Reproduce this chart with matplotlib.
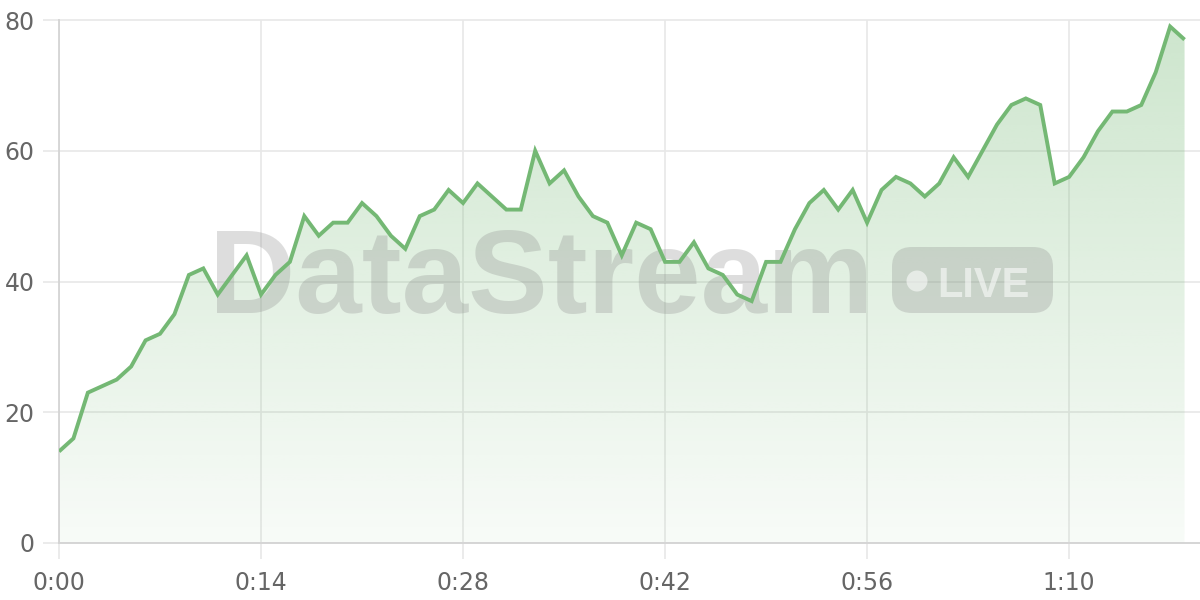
import numpy as np
import matplotlib
matplotlib.use("Agg")
import matplotlib.pyplot as plt
from matplotlib.patches import FancyBboxPatch, Circle
from matplotlib.colors import to_rgb

# one sample per second, 0:00 .. 1:18
seconds = list(range(79))
values = [14, 16, 23, 24, 25, 27, 31, 32, 35, 41,
          42, 38, 41, 44, 38, 41, 43, 50, 47, 49,
          49, 52, 50, 47, 45, 50, 51, 54, 52, 55,
          53, 51, 51, 60, 55, 57, 53, 50, 49, 44,
          49, 48, 43, 43, 46, 42, 41, 38, 37, 43,
          43, 48, 52, 54, 51, 54, 49, 54, 56, 55,
          53, 55, 59, 56, 60, 64, 67, 68, 67, 55,
          56, 59, 63, 66, 66, 67, 72, 79, 77]
x_ticks = [0, 14, 28, 42, 56, 70]
x_tick_labels = ["0:00", "0:14", "0:28", "0:42", "0:56", "1:10"]
y_ticks = [0, 20, 40, 60, 80]

line_color = "#74b874"
grid_color = "#e8e8e8"
axis_color = "#d4d4d4"
label_color = "#666666"

fig = plt.figure(figsize=(12, 6), dpi=100)
ax = fig.add_axes([59 / 1200, 57 / 600, 1141 / 1200, 523 / 600])

ax.set_xlim(0, 79.07)
ax.set_ylim(0, 80)

# gradient fill under the line
poly = ax.fill_between(seconds, values, 0, facecolor="none", edgecolor="none")
r, g, b = to_rgb(line_color)
grad = np.zeros((256, 2, 4))
grad[..., 0], grad[..., 1], grad[..., 2] = r, g, b
grad[..., 3] = np.linspace(0.36, 0.05, 256)[:, None]
img = ax.imshow(grad, extent=[seconds[0], seconds[-1], 0, 80], aspect="auto",
                origin="upper", zorder=1)
img.set_clip_path(poly.get_paths()[0], transform=ax.transData)

ax.plot(seconds, values, color=line_color, lw=2.8, zorder=4,
        solid_joinstyle="miter", solid_capstyle="butt")

# grid / spines / ticks
ax.set_xticks(x_ticks)
ax.set_xticklabels(x_tick_labels)
ax.set_yticks(y_ticks)
ax.grid(True, color=grid_color, lw=1.2, zorder=0)
ax.set_axisbelow(True)
for gl in ax.get_ygridlines():
    gl.set_clip_on(False)
for side in ["top", "right"]:
    ax.spines[side].set_visible(False)
for side in ["left", "bottom"]:
    ax.spines[side].set_color(axis_color)
    ax.spines[side].set_linewidth(1.3)
ax.tick_params(axis="both", colors=grid_color, labelcolor=label_color,
               length=11.5, width=1.2, labelsize=17)
ax.tick_params(axis="y", pad=6)
ax.tick_params(axis="x", pad=9)

# watermark, placed in pixel (inch) coordinates
wm = fig.dpi_scale_trans
def px(x, y):
    return x / 100, (600 - y) / 100

ax.text(*px(209, 313), "DataStream", transform=wm, fontsize=86,
        family="Liberation Sans", fontweight="bold", color="#888888",
        alpha=0.28, ha="left", va="baseline", zorder=2)
bx, by = px(892, 313)
badge = FancyBboxPatch((bx + 0.2, by + 0.2), 1.61 - 0.4, 0.66 - 0.4,
                       boxstyle="round,pad=0.2", transform=wm,
                       facecolor="#888888", edgecolor="none", alpha=0.28,
                       zorder=2, clip_on=False)
ax.add_patch(badge)
ax.add_patch(Circle(px(917, 281), 0.105, transform=wm, facecolor="white",
                    edgecolor="none", alpha=0.55, zorder=2, clip_on=False))
ax.text(*px(937, 297), "LIVE", transform=wm, fontsize=30,
        family="Liberation Sans", fontweight="bold", color="white", alpha=0.55,
        ha="left", va="baseline", zorder=2)

fig.savefig("out.png", dpi=100)
